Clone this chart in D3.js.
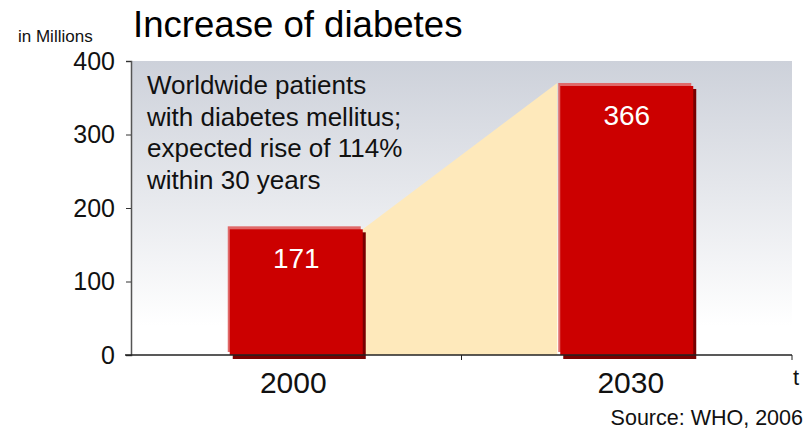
<!DOCTYPE html>
<html>
<head>
<meta charset="utf-8">
<script src="https://cdn.jsdelivr.net/npm/d3@7"></script>
<style>
  body { margin: 0; background: #fff; }
  svg { font-family: "Liberation Sans", Arial, sans-serif; }
</style>
</head>
<body>
<svg width="807" height="430"></svg>
<script>
// data
const years = ["2000", "2030"];
const patients = [171, 366];
const yTicks = [0, 100, 200, 300, 400];
const noteLines = ["Worldwide patients", "with diabetes mellitus;", "expected rise of 114%", "within 30 years"];

const svg = d3.select("svg");
const plotL = 131, plotR = 792, plotT = 61, plotB = 355;
const barW = 133;

const x = d3.scalePoint().domain(years).range([plotL, plotR]).padding(0.5);
const y = d3.scaleLinear().domain([0, 400]).range([plotB, plotT]);

// background gradient of the plot area
const defs = svg.append("defs");
const grad = defs.append("linearGradient").attr("id", "bg")
	.attr("x1", 0).attr("y1", 0).attr("x2", 0).attr("y2", 1);
grad.append("stop").attr("offset", "0%").attr("stop-color", "#cdd1da");
grad.append("stop").attr("offset", "90%").attr("stop-color", "#ffffff");
svg.append("rect")
	.attr("x", plotL).attr("y", plotT)
	.attr("width", plotR - plotL).attr("height", plotB - plotT)
	.attr("fill", "url(#bg)");

// the beige area joining the two bars
const x0 = x(years[0]) + barW / 2, x1 = x(years[1]) - barW / 2 - 3;
svg.append("path")
	.attr("d", `M${x0},${plotB}L${x0},${y(patients[0])}L${x1},${y(patients[1]) - 3}L${x1},${plotB}Z`)
	.attr("fill", "#fee9bb");

// bars: shadow, highlight, face
const bars = svg.selectAll("g.bar").data(years.map((d, i) => [d, patients[i]]))
	.enter().append("g").attr("class", "bar");
bars.append("rect")
	.attr("x", d => x(d[0]) - barW / 2 + 3).attr("y", d => y(d[1]) + 3)
	.attr("width", barW).attr("height", d => plotB - y(d[1]) + 1)
	.attr("fill", "#780000");
bars.append("rect")
	.attr("x", d => x(d[0]) - barW / 2 - 2).attr("y", d => y(d[1]) - 3)
	.attr("width", barW).attr("height", d => plotB - y(d[1]))
	.attr("fill", "#e06a6a");
bars.append("rect")
	.attr("x", d => x(d[0]) - barW / 2).attr("y", d => y(d[1]))
	.attr("width", barW).attr("height", d => plotB - y(d[1]))
	.attr("fill", "#cc0000");
bars.append("text")
	.attr("x", d => x(d[0])).attr("y", d => y(d[1]) + 39)
	.attr("text-anchor", "middle")
	.attr("font-size", 28).attr("fill", "#fff")
	.text(d => d[1]);

// y axis
const yg = svg.append("g").attr("transform", `translate(${plotL},0)`)
	.call(d3.axisLeft(y).tickValues(yTicks).tickSize(5).tickPadding(11));
yg.select(".domain").attr("stroke", "#555").attr("stroke-width", 1.5);
yg.selectAll(".tick line").attr("stroke", "#333");
yg.selectAll(".tick text").attr("font-size", 25).attr("fill", "#111")
	.attr("font-family", "Liberation Sans, Arial, sans-serif");

// x axis
const xg = svg.append("g").attr("transform", `translate(0,${plotB})`);
xg.append("line").attr("x1", plotL - 6).attr("x2", plotR).attr("stroke", "#222").attr("stroke-width", 1.5);
xg.append("line").attr("x1", (plotL + plotR) / 2).attr("x2", (plotL + plotR) / 2)
	.attr("y1", 0).attr("y2", 5).attr("stroke", "#222");
xg.append("line").attr("x1", plotR).attr("x2", plotR)
	.attr("y1", 0).attr("y2", 5).attr("stroke", "#222");
xg.selectAll("text.year").data(years).enter().append("text")
	.attr("class", "year")
	.attr("x", (d, i) => x(d) + (i ? 4 : -3)).attr("y", 38)
	.attr("text-anchor", "middle").attr("font-size", 30).attr("fill", "#111")
	.text(d => d);
svg.append("text").attr("x", 796).attr("y", 385)
	.attr("text-anchor", "middle").attr("font-size", 22).attr("fill", "#111").text("t");

// note text
svg.append("g").selectAll("text").data(noteLines).enter().append("text")
	.attr("x", 147).attr("y", (d, i) => 94 + i * 31.5)
	.attr("font-size", 26).attr("fill", "#111")
	.text(d => d);

// titles
svg.append("text").attr("x", 133).attr("y", 37)
	.attr("font-size", 36.6).attr("fill", "#000").text("Increase of diabetes");
svg.append("text").attr("x", 18).attr("y", 42)
	.attr("font-size", 17).attr("fill", "#111").text("in Millions");
svg.append("text").attr("x", 803).attr("y", 425)
	.attr("text-anchor", "end").attr("font-size", 21.5).attr("fill", "#111").text("Source: WHO, 2006");
</script>
</body>
</html>
